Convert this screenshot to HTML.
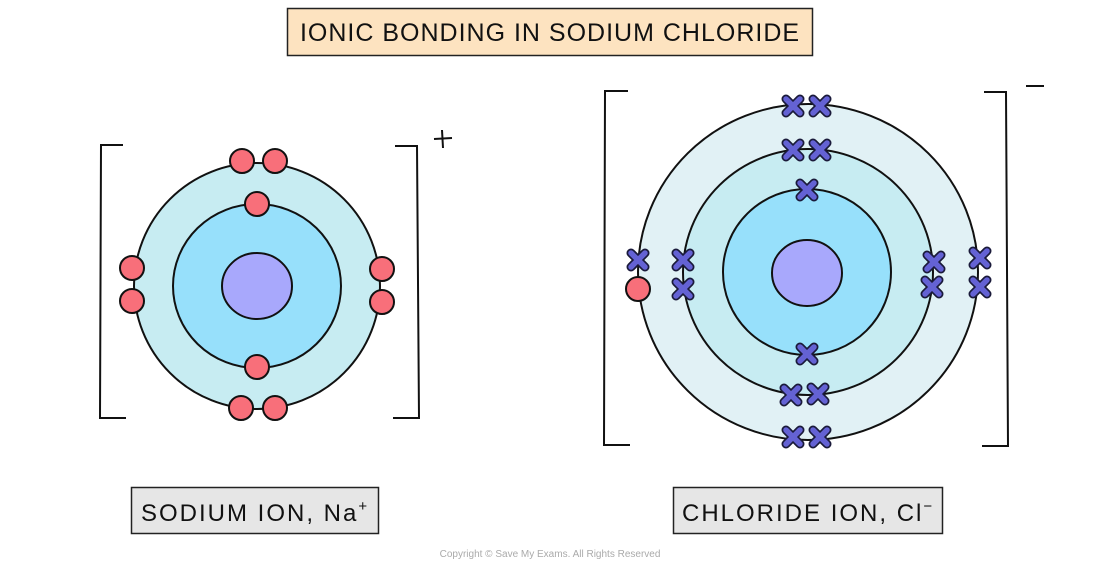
<!DOCTYPE html>
<html><head><meta charset="utf-8"><style>
body{margin:0;background:#fff;width:1100px;height:570px;overflow:hidden;font-family:"Liberation Sans",sans-serif}
</style></head><body>
<svg width="1100" height="570" viewBox="0 0 1100 570" xmlns="http://www.w3.org/2000/svg">
<defs>
<g id="x"><path d="M-7,-7L7,7M7,-7L-7,7" stroke="#1a1a3a" stroke-width="9" stroke-linecap="round"/><path d="M-7,-7L7,7M7,-7L-7,7" stroke="#6462d4" stroke-width="5.5" stroke-linecap="round"/></g>
</defs>
<rect x="287.5" y="8.5" width="525" height="47" fill="#fde3c0" stroke="#222" stroke-width="1.5"/>
<text x="550" y="41" text-anchor="middle" font-size="25" fill="#111" letter-spacing="1">IONIC BONDING IN SODIUM CHLORIDE</text>

<g stroke="#111" stroke-width="2">
<ellipse cx="257" cy="286" rx="123" ry="123" fill="#c7ecf2"/>
<ellipse cx="257" cy="286" rx="84" ry="82" fill="#97e0fb"/>
<ellipse cx="257" cy="286" rx="35" ry="33" fill="#a8a8fc"/>
<g fill="#f86f7a">
<circle cx="242" cy="161" r="12"/><circle cx="275" cy="161" r="12"/>
<circle cx="241" cy="408" r="12"/><circle cx="275" cy="408" r="12"/>
<circle cx="132" cy="268" r="12"/><circle cx="132" cy="301" r="12"/>
<circle cx="382" cy="269" r="12"/><circle cx="382" cy="302" r="12"/>
<circle cx="257" cy="204" r="12"/><circle cx="257" cy="367" r="12"/>
</g>
<path d="M123,145 L101,145 L100,418 L126,418" fill="none"/>
<path d="M395,146 L417,146 L419,418 L393,418" fill="none"/>
<path d="M434,139 L452,138 M442,130 L443,148" fill="none"/>

<ellipse cx="808" cy="272" rx="170" ry="168" fill="#e1f1f5"/>
<ellipse cx="808" cy="272" rx="125" ry="123" fill="#c7ecf2"/>
<ellipse cx="807" cy="272" rx="84" ry="83" fill="#97e0fb"/>
<ellipse cx="807" cy="273" rx="35" ry="33" fill="#a8a8fc"/>
<circle cx="638" cy="289" r="12" fill="#f86f7a"/>
<path d="M628,91 L605,91 L604,445 L630,445" fill="none"/>
<path d="M984,92 L1006,92 L1008,446 L982,446" fill="none"/>
<path d="M1026,86 L1044,86" fill="none"/>
</g>
<g>
<use href="#x" x="793" y="106"/><use href="#x" x="820" y="106"/>
<use href="#x" x="793" y="437"/><use href="#x" x="820" y="437"/>
<use href="#x" x="638" y="260"/>
<use href="#x" x="980" y="258"/><use href="#x" x="980" y="287"/>
<use href="#x" x="793" y="150"/><use href="#x" x="820" y="150"/>
<use href="#x" x="791" y="395"/><use href="#x" x="818" y="394"/>
<use href="#x" x="683" y="260"/><use href="#x" x="683" y="289"/>
<use href="#x" x="934" y="262"/><use href="#x" x="932" y="287"/>
<use href="#x" x="807" y="190"/><use href="#x" x="807" y="354"/>
</g>

<rect x="131.5" y="487.5" width="247" height="46" fill="#e6e6e6" stroke="#222" stroke-width="1.5"/>
<text x="141" y="521" font-size="24" fill="#111" letter-spacing="2">SODIUM ION, Na<tspan font-size="15" dy="-10">+</tspan></text>
<rect x="673.5" y="487.5" width="269" height="46" fill="#e6e6e6" stroke="#222" stroke-width="1.5"/>
<text x="682" y="521" font-size="24" fill="#111" letter-spacing="2">CHLORIDE ION, Cl<tspan font-size="15" dy="-10">−</tspan></text>
<text x="550" y="557" text-anchor="middle" font-size="10" fill="#aaa">Copyright © Save My Exams. All Rights Reserved</text>
</svg>
</body></html>
